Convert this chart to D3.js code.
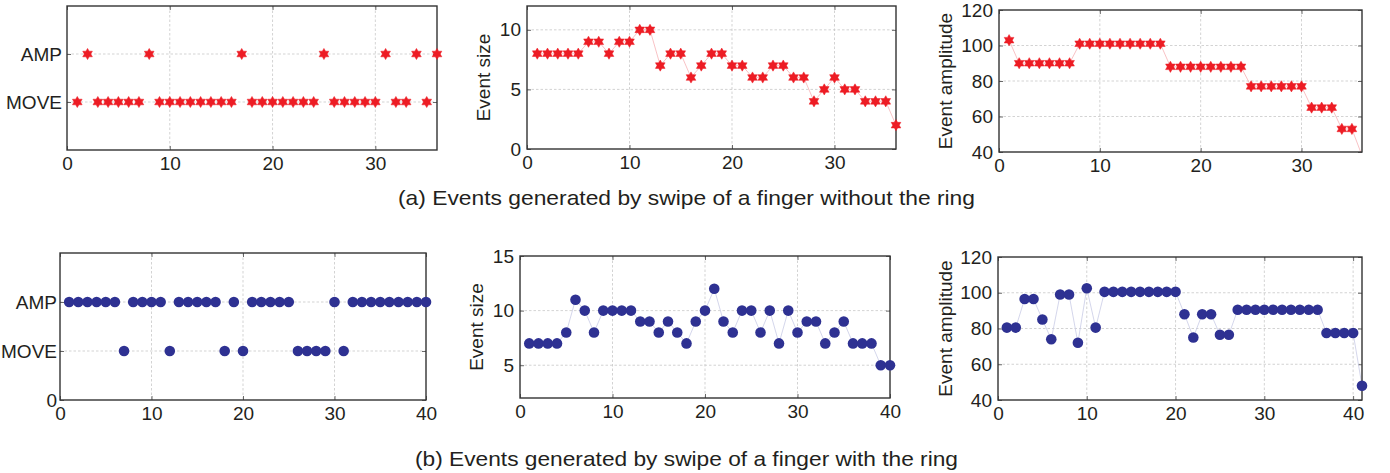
<!DOCTYPE html>
<html><head><meta charset="utf-8">
<script src="https://cdn.jsdelivr.net/npm/d3@7"></script>
<style>
html,body{margin:0;padding:0;background:#fff;}
text{font-family:"Liberation Sans",Arial,Helvetica,sans-serif;fill:#231f20;}
</style></head>
<body><svg id="c" width="1390" height="473"></svg>
<script>
// ---- data ----
const eventTypes = ["MOVE","AMP"];
const aTypes = ["MOVE","AMP","MOVE","MOVE","MOVE","MOVE","MOVE","AMP","MOVE","MOVE","MOVE","MOVE","MOVE","MOVE","MOVE","MOVE","AMP","MOVE","MOVE","MOVE","MOVE","MOVE","MOVE","MOVE","AMP","MOVE","MOVE","MOVE","MOVE","MOVE","AMP","MOVE","MOVE","AMP","MOVE","AMP"];
const aSize = [8,8,8,8,8,9,9,8,9,9,10,10,7,8,8,6,7,8,8,7,7,6,6,7,7,6,6,4,5,6,5,5,4,4,4,2];
const aAmp = [103,90,90,90,90,90,90,101,101,101,101,101,101,101,101,101,88,88,88,88,88,88,88,88,77,77,77,77,77,77,65,65,65,53,53,38];
const bTypes = ["AMP","AMP","AMP","AMP","AMP","AMP","MOVE","AMP","AMP","AMP","AMP","MOVE","AMP","AMP","AMP","AMP","AMP","MOVE","AMP","MOVE","AMP","AMP","AMP","AMP","AMP","MOVE","MOVE","MOVE","MOVE","AMP","MOVE","AMP","AMP","AMP","AMP","AMP","AMP","AMP","AMP","AMP"];
const bSize = [7,7,7,7,8,11,10,8,10,10,10,10,9,9,8,9,8,7,9,10,12,9,8,10,10,8,10,7,10,8,9,9,7,8,9,7,7,7,5,5];
const bAmp = [80.5,80.5,96.5,96.5,85,74,99,99,72,102.5,80.5,100.5,100.5,100.5,100.5,100.5,100.5,100.5,100.5,100.5,88,75,88,88,76.5,76.5,90.5,90.5,90.5,90.5,90.5,90.5,90.5,90.5,90.5,90.5,77.5,77.5,77.5,77.5,48];
const xTicksA = [0,10,20,30];
const xTicksB = [0,10,20,30,40];
const sizeTicksA = [0,5,10];
const sizeTicksB = [5,10,15];
const ampTicks = [40,60,80,100,120];
const captionA = "(a) Events generated by swipe of a finger without the ring";
const captionB = "(b) Events generated by swipe of a finger with the ring";

const svg = d3.select("#c");
const RED = "#ed1c24", RED_LINE = "#f6b3b6", BLUE = "#2e3192", BLUE_LINE = "#c9cce6";
const FS = 19;

function hexagram(r){
  const pts=[];
  for(let i=0;i<12;i++){
    const ang = -Math.PI/2 + i*Math.PI/6;
    const rr = i%2===0 ? r : r/Math.sqrt(3);
    pts.push([rr*Math.cos(ang), rr*Math.sin(ang)]);
  }
  return "M"+pts.map(p=>p[0].toFixed(2)+","+p[1].toFixed(2)).join("L")+"Z";
}

let clipId=0;
function panel(o){
  const g = svg.append("g");
  const x = d3.scaleLinear().domain(o.xd).range([o.x0,o.x1]);
  const y = d3.scaleLinear().domain(o.yd).range([o.y1,o.y0]);
  g.selectAll(".gx").data(o.xt.filter(t=>t>o.xd[0]&&t<o.xd[1])).enter().append("line")
    .attr("x1",d=>x(d)).attr("x2",d=>x(d)).attr("y1",o.y0).attr("y2",o.y1)
    .attr("stroke","#c8c8c8").attr("stroke-width",0.8).attr("stroke-dasharray","2.5,2");
  g.selectAll(".gy").data(o.yt.filter(t=>t>o.yd[0]&&t<o.yd[1])).enter().append("line")
    .attr("y1",d=>y(d)).attr("y2",d=>y(d)).attr("x1",o.x0).attr("x2",o.x1)
    .attr("stroke","#c8c8c8").attr("stroke-width",0.8).attr("stroke-dasharray","2.5,2");
  const ax = g.append("g").attr("transform",`translate(0,${o.y1})`)
    .call(d3.axisBottom(x).tickValues(o.xt).tickSize(-4).tickPadding(7).tickFormat(d3.format("d")));
  const ay = g.append("g").attr("transform",`translate(${o.x0},0)`)
    .call(d3.axisLeft(y).tickValues(o.yt).tickSize(-4).tickPadding(o.ypad||6).tickFormat(o.yfmt||d3.format("d")));
  const axt = g.append("g").attr("transform",`translate(0,${o.y0})`)
    .call(d3.axisTop(x).tickValues(o.xt).tickSize(-4).tickFormat(""));
  const ayr = g.append("g").attr("transform",`translate(${o.x1},0)`)
    .call(d3.axisRight(y).tickValues(o.yt).tickSize(-4).tickFormat(""));
  [ax,ay,axt,ayr].forEach(a=>{
    a.select(".domain").remove();
    a.selectAll("line").attr("stroke","#444").attr("stroke-width",0.8);
    a.selectAll("text").style("font-size",FS+"px").attr("fill","#231f20");
  });
  if(o.ylab){
    g.append("text").attr("transform",`translate(${o.ylx},${(o.y0+o.y1)/2}) rotate(-90)`)
      .attr("text-anchor","middle").attr("dominant-baseline","central")
      .style("font-size",FS+"px").text(o.ylab);
  }
  const id="clip"+(clipId++);
  svg.append("clipPath").attr("id",id).append("rect")
    .attr("x",o.x0).attr("y",o.y0).attr("width",o.x1-o.x0).attr("height",o.y1-o.y0);
  const pts = o.vals.map((v,i)=>({x:i+1,y:v}));
  if(o.line){
    g.append("path").datum(pts).attr("clip-path",`url(#${id})`)
      .attr("fill","none").attr("stroke",o.lineColor).attr("stroke-width",0.8)
      .attr("d",d3.line().x(d=>x(d.x)).y(d=>y(d.y)));
  }
  g.append("rect").attr("x",o.x0).attr("y",o.y0).attr("width",o.x1-o.x0).attr("height",o.y1-o.y0)
    .attr("fill","none").attr("stroke","#333").attr("stroke-width",1.4);
  const vis = pts.filter(d=>d.y>=o.yd[0]&&d.y<=o.yd[1]);
  if(o.marker==="star"){
    g.selectAll(".m").data(vis).enter().append("path")
      .attr("transform",d=>`translate(${x(d.x)},${y(d.y)})`)
      .attr("d",hexagram(5.6)).attr("fill",RED).attr("stroke",RED).attr("stroke-width",0.5);
  } else {
    g.selectAll(".m").data(vis).enter().append("circle")
      .attr("cx",d=>x(d.x)).attr("cy",d=>y(d.y)).attr("r",5.3).attr("fill",BLUE);
  }
}

const typeFmt = d => d===1?"MOVE":d===2?"AMP":String(d);
const typeVal = t => eventTypes.indexOf(t)+1;

panel({x0:67,x1:437,y0:6,y1:150,xd:[0,36],yd:[0,3],xt:xTicksA,yt:[1,2],yfmt:typeFmt,
  vals:aTypes.map(typeVal),marker:"star",ypad:5});
panel({x0:527,x1:896,y0:6,y1:149,xd:[0,36],yd:[0,12],xt:xTicksA,yt:sizeTicksA,
  vals:aSize,marker:"star",line:true,lineColor:RED_LINE,ylab:"Event size",ylx:483});
panel({x0:999,x1:1362,y0:10,y1:152,xd:[0,36],yd:[40,120],xt:xTicksA,yt:ampTicks,
  vals:aAmp,marker:"star",line:true,lineColor:RED_LINE,ylab:"Event amplitude",ylx:945});
panel({x0:60,x1:426,y0:253,y1:400,xd:[0,40],yd:[0,3],xt:xTicksB,yt:[0,1,2],yfmt:typeFmt,
  vals:bTypes.map(typeVal),marker:"dot",ypad:3});
panel({x0:520,x1:890,y0:256,y1:398,xd:[0,40],yd:[2,15],xt:xTicksB,yt:sizeTicksB,
  vals:bSize,marker:"dot",line:true,lineColor:BLUE_LINE,ylab:"Event size",ylx:476});
panel({x0:998,x1:1362,y0:257,y1:400,xd:[0,41],yd:[40,120],xt:xTicksB,yt:ampTicks,
  vals:bAmp,marker:"dot",line:true,lineColor:BLUE_LINE,ylab:"Event amplitude",ylx:945});

svg.append("text").attr("x",398).attr("y",197).attr("dominant-baseline","central")
  .attr("textLength",577).attr("lengthAdjust","spacingAndGlyphs")
  .style("font-size","21px").text(captionA);
svg.append("text").attr("x",415).attr("y",458).attr("dominant-baseline","central")
  .attr("textLength",543).attr("lengthAdjust","spacingAndGlyphs")
  .style("font-size","21px").text(captionB);
</script></body></html>
